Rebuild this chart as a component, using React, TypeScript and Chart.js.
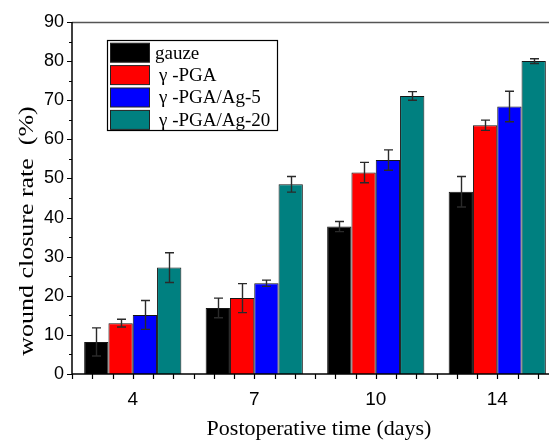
import React, { useEffect, useRef } from "react";
import { Chart, registerables } from "chart.js";

Chart.register(...registerables);

const categories = ["4", "7", "10", "14"];
const seriesNames = ["gauze", "γ -PGA", "γ -PGA/Ag-5", "γ -PGA/Ag-20"];
const seriesColors = ["#000000", "#ff0000", "#0000ff", "#008080"];
const gauze = [8.2, 16.9, 37.7, 46.6];
const gauzeErr = [3.6, 2.5, 1.3, 3.9];
const pga = [13.0, 19.4, 51.5, 63.6];
const pgaErr = [1.0, 3.7, 2.6, 1.3];
const ag5 = [15.1, 23.2, 54.7, 68.4];
const ag5Err = [3.7, 0.8, 2.6, 3.9];
const ag20 = [27.2, 48.5, 71.1, 80.0];
const ag20Err = [3.8, 2.0, 1.1, 0.6];
const yMin = 0;
const yMax = 90;
const yStep = 10;
const xTitle = "Postoperative time (days)";
const yTitle = "wound closure rate  (%)";

const seriesValues = [gauze, pga, ag5, ag20];
const seriesErrors = [gauzeErr, pgaErr, ag5Err, ag20Err];

const SERIF = "'Liberation Serif', 'DejaVu Serif', serif";
const SANS = "'Liberation Sans', Arial, sans-serif";

const decorPlugin = {
  id: "decor",
  afterDatasetsDraw(chart: any) {
    const ctx = chart.ctx;
    const ys = chart.scales.y;
    ctx.save();
    ctx.strokeStyle = "#2a2a2a";
    ctx.lineWidth = 1.4;
    chart.data.datasets.forEach((ds: any, i: number) => {
      const meta = chart.getDatasetMeta(i);
      const errs = seriesErrors[i];
      meta.data.forEach((bar: any, j: number) => {
        const v = ds.data[j];
        const e = errs[j];
        const x = Math.round(bar.x) + 0.5;
        const yt = ys.getPixelForValue(v + e);
        const yb = ys.getPixelForValue(v - e);
        ctx.beginPath();
        ctx.moveTo(x, yt);
        ctx.lineTo(x, yb);
        ctx.moveTo(x - 4.5, yt);
        ctx.lineTo(x + 4.5, yt);
        ctx.moveTo(x - 4.5, yb);
        ctx.lineTo(x + 4.5, yb);
        ctx.stroke();
      });
    });
    ctx.restore();
  },
  afterDraw(chart: any) {
    const ctx = chart.ctx;
    const { left, right, top, bottom } = chart.chartArea;
    const ys = chart.scales.y;
    const xs = chart.scales.x;
    ctx.save();
    // top frame line
    ctx.strokeStyle = "#555";
    ctx.lineWidth = 1.5;
    ctx.beginPath();
    ctx.moveTo(left, top + 0.5);
    ctx.lineTo(right, top + 0.5);
    ctx.stroke();
    // axes
    ctx.strokeStyle = "#000";
    ctx.lineWidth = 1.5;
    ctx.beginPath();
    ctx.moveTo(left, top);
    ctx.lineTo(left, bottom);
    ctx.lineTo(right, bottom);
    ctx.stroke();
    // y ticks
    ctx.lineWidth = 1.2;
    ctx.beginPath();
    for (let v = yMin; v <= yMax; v += yStep / 2) {
      const y = Math.round(ys.getPixelForValue(v)) + 0.5;
      const major = Math.abs(v % yStep) < 1e-6;
      ctx.moveTo(left, y);
      ctx.lineTo(left - (major ? 5 : 3), y);
    }
    ctx.stroke();
    // x ticks
    const n = categories.length;
    const catW = (xs.right - xs.left) / n;
    ctx.beginPath();
    for (let k = 0; k <= n * 6; k++) {
      const x = Math.round(xs.left + (k * catW) / 6) + 0.5;
      if (x > right) break;
      ctx.moveTo(x, bottom);
      ctx.lineTo(x, bottom + 5);
    }
    ctx.stroke();
    // titles
    ctx.fillStyle = "#000";
    ctx.font = `22px ${SERIF}`;
    ctx.textAlign = "center";
    ctx.textBaseline = "alphabetic";
    ctx.fillText(xTitle, 319, 435);
    ctx.save();
    ctx.translate(33, 231);
    ctx.rotate(-Math.PI / 2);
    ctx.scale(1.18, 1);
    ctx.font = `22px ${SERIF}`;
    ctx.textBaseline = "alphabetic";
    ctx.fillText(yTitle, 0, 0);
    ctx.restore();
    // legend
    const lx = 107.5, ly = 40.5, lw = 170, lh = 90;
    ctx.fillStyle = "#fff";
    ctx.fillRect(lx, ly, lw, lh);
    ctx.strokeStyle = "#000";
    ctx.lineWidth = 1.2;
    ctx.strokeRect(lx, ly, lw, lh);
    seriesNames.forEach((name, i) => {
      const cy = 52.7 + i * 22.4;
      ctx.fillStyle = seriesColors[i];
      ctx.fillRect(110.5, cy - 9.5, 39, 19);
      ctx.strokeStyle = "#222";
      ctx.lineWidth = 1;
      ctx.strokeRect(110.5, cy - 9.5, 39, 19);
      ctx.fillStyle = "#000";
      ctx.font = `19px ${SERIF}`;
      ctx.textAlign = "left";
      ctx.textBaseline = "middle";
      ctx.fillText(name, i === 0 ? 155 : 159, cy + 1);
    });
    ctx.restore();
  },
};

export default function App() {
  const ref = useRef<HTMLCanvasElement | null>(null);
  useEffect(() => {
    if (!ref.current) return;
    const chart = new Chart(ref.current, {
      type: "bar",
      data: {
        labels: categories,
        datasets: seriesNames.map((name, i) => ({
          label: name,
          data: seriesValues[i],
          backgroundColor: seriesColors[i],
          borderColor: "#151515",
          borderWidth: 1,
          categoryPercentage: 0.8,
          barPercentage: 1.0,
        })),
      },
      options: {
        responsive: false,
        animation: false,
        layout: { padding: { top: 22, left: 0, right: 0, bottom: 0 } },
        plugins: {
          legend: { display: false },
          tooltip: { enabled: false },
          title: { display: false },
        },
        scales: {
          x: {
            type: "category",
            offset: true,
            grid: { display: false, drawTicks: false },
            border: { display: false },
            ticks: {
              color: "#000",
              font: { family: SANS, size: 19 },
              padding: 14,
              maxRotation: 0,
            },
            afterFit: (s: any) => {
              s.height = 67;
            },
          },
          y: {
            min: yMin,
            max: yMax,
            grid: { display: false, drawTicks: false },
            border: { display: false },
            ticks: {
              stepSize: yStep,
              color: "#000",
              font: { family: SANS, size: 18 },
              padding: 8,
            },
            afterFit: (s: any) => {
              s.width = 72;
            },
          },
        },
      },
      plugins: [decorPlugin],
    });
    return () => chart.destroy();
  }, []);
  return (
    <div
      style={{
        position: "fixed",
        left: 0,
        top: 0,
        width: 549,
        height: 441,
        overflow: "hidden",
        background: "#fff",
      }}
    >
      <canvas ref={ref} width={558} height={441} style={{ display: "block" }} />
    </div>
  );
}
